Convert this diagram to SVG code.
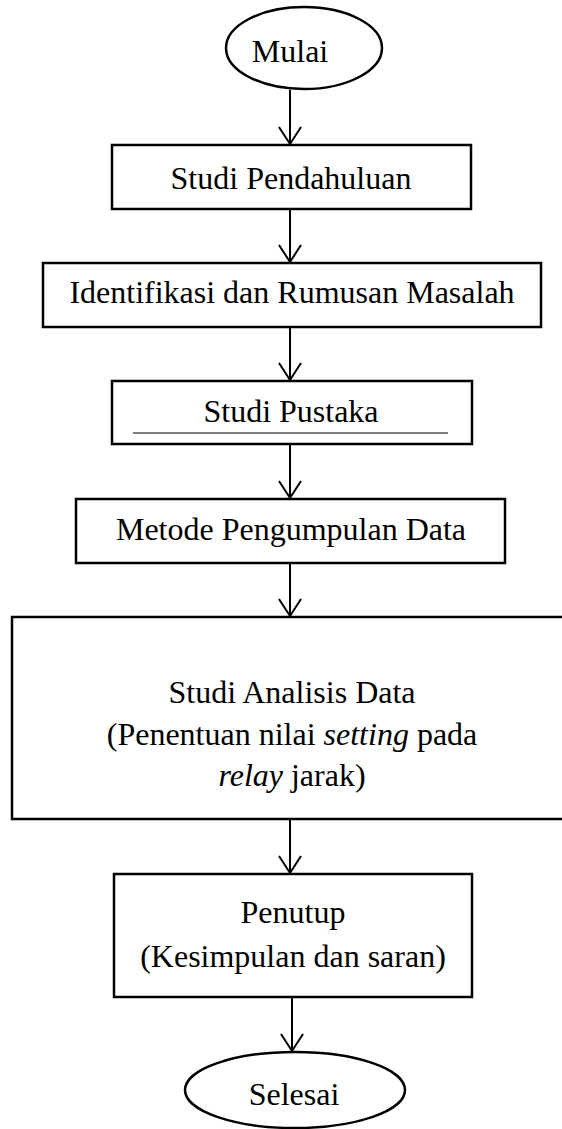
<svg xmlns="http://www.w3.org/2000/svg" width="562" height="1129" viewBox="0 0 562 1129">
<style>
.n{fill:#fff;stroke:#000;stroke-width:2.5}
.t{font-family:"Liberation Serif","Times New Roman",serif;font-size:32px;fill:#000;text-anchor:middle}
.c line{stroke:#000;stroke-width:2}
.c path{fill:none;stroke:#000;stroke-width:2}
</style>
<rect width="562" height="1129" fill="#fff"/>
<g class="c" id="connectors">
<line x1="290" y1="90" x2="290" y2="144"/><path d="M279,127 L290,144 L301,127"/>
<line x1="290" y1="209" x2="290" y2="262"/><path d="M279,245 L290,262 L301,245"/>
<line x1="290" y1="327" x2="290" y2="380"/><path d="M279,363 L290,380 L301,363"/>
<line x1="290" y1="444" x2="290" y2="498"/><path d="M279,481 L290,498 L301,481"/>
<line x1="290" y1="563" x2="290" y2="616"/><path d="M279,599 L290,616 L301,599"/>
<line x1="290" y1="819" x2="290" y2="873"/><path d="M279,856 L290,873 L301,856"/>
<line x1="292" y1="997" x2="292" y2="1051"/><path d="M281,1034 L292,1051 L303,1034"/>
</g>
<g id="mulai"><ellipse class="n" cx="304" cy="48" rx="78" ry="41"/><text class="t" x="290" y="62">Mulai</text></g>
<g id="studi-pendahuluan"><rect class="n" x="112" y="145" width="359" height="64"/><text class="t" x="291" y="189">Studi Pendahuluan</text></g>
<g id="identifikasi"><rect class="n" x="43" y="263" width="498" height="64"/><text class="t" x="292" y="303">Identifikasi dan Rumusan Masalah</text></g>
<g id="studi-pustaka"><rect class="n" x="112" y="381" width="360" height="63"/><text class="t" x="291" y="422">Studi Pustaka</text><line x1="133" y1="433" x2="448" y2="433" stroke="#000" stroke-width="1.2"/></g>
<g id="metode"><rect class="n" x="76" y="499" width="429" height="64"/><text class="t" x="291" y="540">Metode Pengumpulan Data</text></g>
<g id="analisis"><rect class="n" x="12" y="617" width="560" height="202"/>
<text class="t" x="292" y="703">Studi Analisis Data</text>
<text class="t" x="292" y="745">(Penentuan nilai <tspan font-style="italic">setting</tspan> pada</text>
<text class="t" x="292" y="786"><tspan font-style="italic">relay</tspan> jarak)</text></g>
<g id="penutup"><rect class="n" x="114" y="874" width="358" height="123"/>
<text class="t" x="293" y="923">Penutup</text>
<text class="t" x="293" y="967">(Kesimpulan dan saran)</text></g>
<g id="selesai"><ellipse class="n" cx="295" cy="1090" rx="110" ry="38"/><text class="t" x="294" y="1105">Selesai</text></g>
</svg>
